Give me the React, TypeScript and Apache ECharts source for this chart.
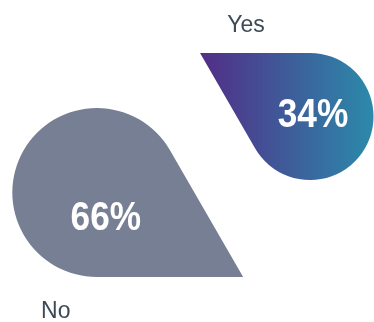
import React, { useEffect, useRef } from "react";
import * as echarts from "echarts";

const categories = ["No", "Yes"];
const values = [66, 34];
const percentLabels = ["66%", "34%"];

export default function App() {
  const ref = useRef<HTMLDivElement>(null);
  useEffect(() => {
    const chart = echarts.init(ref.current!, null, { renderer: "svg" });
    const data = categories.map((c, i) => ({ name: c, value: [i, i, values[i]] }));
    const gradient = new echarts.graphic.LinearGradient(0, 0, 1, 0, [
      { offset: 0, color: "#522d87" },
      { offset: 1, color: "#2b8aab" },
    ]);
    chart.setOption({
      animation: false,
      grid: { left: 0, right: 0, top: 0, bottom: 0 },
      xAxis: { type: "value", min: -0.454, max: 1.3, show: false },
      yAxis: { type: "value", min: -1.704, max: 2.533, show: false },
      series: [
        {
          type: "custom",
          data,
          renderItem: (params: any, api: any) => {
            const idx = params.dataIndex;
            const c = api.coord([api.value(0), api.value(1)]);
            const v = api.value(2);
            const r = 41.2 + 0.656 * v;
            const s3 = Math.sqrt(3);
            const cx = c[0];
            const cy = c[1];
            let d: string;
            let labelPos: number[];
            let namePos: number[];
            let fill: any;
            if (idx === 0) {
              const px = cx + r * s3, py = cy + r;
              const t2x = cx + (r * s3) / 2, t2y = cy - r / 2;
              d = `M${px} ${py} L${cx} ${cy + r} A${r} ${r} 0 1 1 ${t2x} ${t2y} Z`;
              labelPos = [cx + 9, cy + 23.5];
              namePos = [cx - 41, cy + r + 41];
              fill = "#767f93";
            } else {
              const px = cx - r * s3, py = cy - r;
              const t2x = cx - (r * s3) / 2, t2y = cy + r / 2;
              d = `M${px} ${py} L${cx} ${cy - r} A${r} ${r} 0 1 1 ${t2x} ${t2y} Z`;
              labelPos = [cx + 3, cy - 4];
              namePos = [cx - 64, cy - r - 21];
              fill = gradient;
            }
            return {
              type: "group",
              children: [
                { type: "path", shape: { pathData: d }, style: { fill } },
                {
                  type: "text",
                  x: labelPos[0],
                  y: labelPos[1],
                  scaleX: 0.86,
                  style: {
                    text: percentLabels[idx],
                    fill: "#ffffff",
                    font: "bold 41px 'Liberation Sans', Arial, sans-serif",
                    textAlign: "center",
                    textVerticalAlign: "middle",
                  },
                },
                {
                  type: "text",
                  x: namePos[0],
                  y: namePos[1] + 4,
                  style: {
                    text: categories[idx],
                    fill: "#3d4a55",
                    font: "23px 'Liberation Sans', sans-serif",
                    textAlign: "center",
                    textVerticalAlign: "bottom",
                  },
                },
              ],
            };
          },
        },
      ],
    });
    return () => chart.dispose();
  }, []);
  return (
    <div
      ref={ref}
      style={{ position: "fixed", left: 0, top: 0, width: 374, height: 322 }}
    />
  );
}
